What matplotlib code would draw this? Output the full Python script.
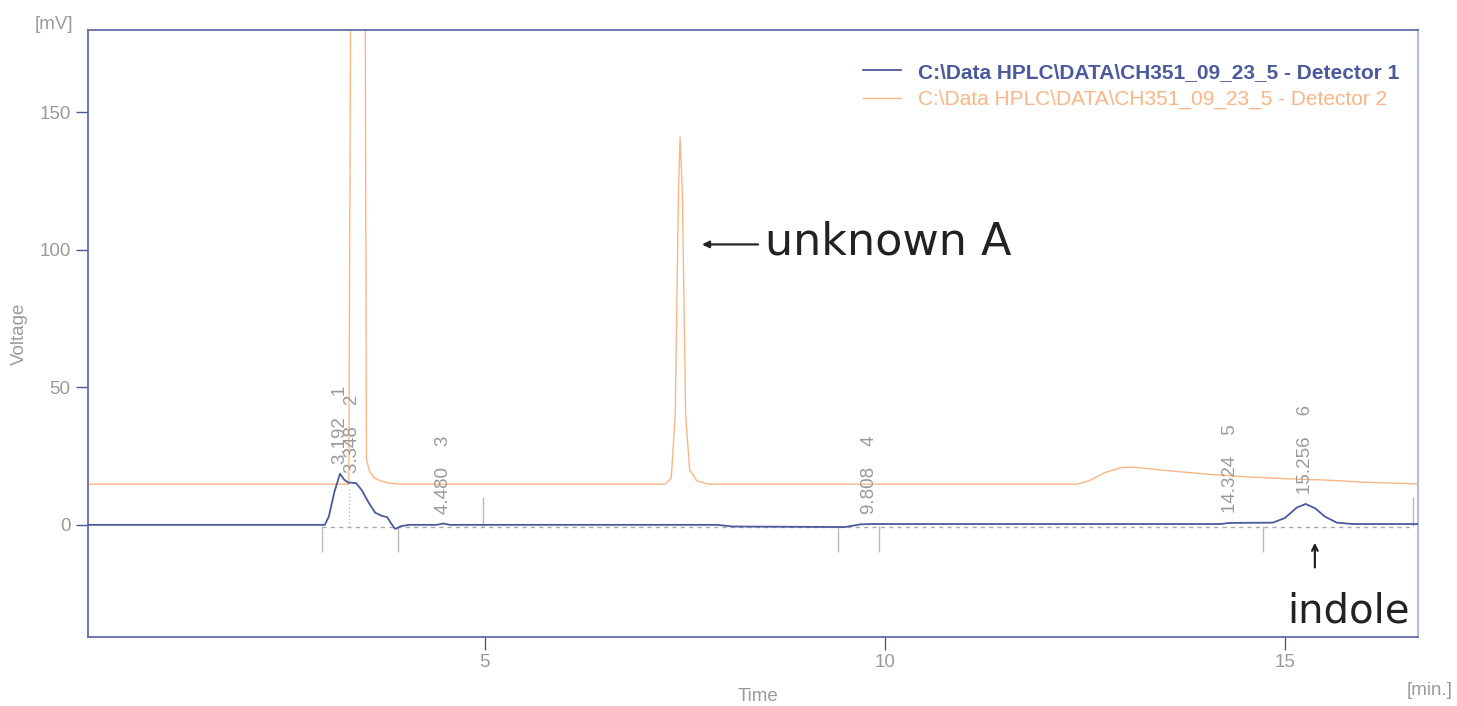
import numpy as np
import matplotlib.pyplot as plt

# --- DATA ---
# Detector 1 (blue) trace: time [min], voltage [mV]
det1_t = [0.04, 3.00, 3.05, 3.12, 3.19, 3.24, 3.29, 3.39, 3.46, 3.55, 3.63, 3.72, 3.78,
          3.83, 3.88, 3.95, 4.05, 4.40, 4.48, 4.56, 7.90, 8.10, 9.50, 9.60, 9.70, 9.85,
          14.20, 14.30, 14.85, 15.00, 15.15, 15.26, 15.38, 15.50, 15.65, 15.85, 16.66]
det1_v = [0.0, 0.0, 3.0, 12.0, 18.6, 16.5, 15.4, 15.2, 12.7, 8.0, 4.4, 3.2, 2.8,
          0.5, -1.5, -0.5, 0.0, 0.0, 0.5, 0.0, 0.0, -0.6, -0.8, -0.3, 0.2, 0.3,
          0.3, 0.7, 0.8, 2.5, 6.3, 7.6, 6.0, 3.0, 0.8, 0.3, 0.3]

# Detector 2 (orange) trace, the first peak runs far off scale
det2_t = [0.04, 3.30, 3.33, 3.50, 3.52, 3.56, 3.62, 3.70, 3.80, 3.95, 7.25, 7.33, 7.38,
          7.42, 7.44, 7.47, 7.51, 7.56, 7.65, 7.80, 12.40, 12.55, 12.75, 12.95, 13.10,
          13.50, 14.00, 14.50, 15.00, 15.50, 16.00, 16.66]
det2_v = [14.8, 14.8, 250.0, 250.0, 24.0, 19.5, 17.0, 16.0, 15.2, 14.8, 14.8, 17.0, 40.0,
          120.0, 141.0, 120.0, 40.0, 20.0, 16.0, 14.8, 14.8, 16.0, 19.0, 20.8, 21.0,
          19.8, 18.5, 17.5, 16.8, 16.3, 15.5, 14.9]

# integrated peaks (detector 1)
peak_no = [1, 2, 3, 4, 5, 6]
peak_rt = [3.192, 3.348, 4.480, 9.808, 14.324, 15.256]
peak_h = [18.6, 15.4, 0.5, 0.3, 0.7, 7.6]

# integration event marks
mark_down_t = [2.96, 3.92, 9.41, 9.93, 14.73]
mark_up_t = [4.98, 16.60]

blue = '#4a5a9c'
orange = '#fab585'
gray = '#9a9a9a'
ink = '#222222'
plt.rcParams['font.family'] = ['Liberation Sans', 'DejaVu Sans']

fig = plt.figure(figsize=(14.57, 7.06), dpi=100)
ax = fig.add_axes([0.0604, 0.0977, 0.9126, 0.8598])

ax.plot(det2_t, det2_v, color=orange, lw=1.0, label='C:\\Data HPLC\\DATA\\CH351_09_23_5 - Detector 2', zorder=2)
ax.plot(det1_t, det1_v, color=blue, lw=1.3, label='C:\\Data HPLC\\DATA\\CH351_09_23_5 - Detector 1', zorder=3)

# integration baseline + event marks
ax.plot([2.96, 16.6], [-0.7, -0.7], color='#aaaaaa', lw=1, ls=(0, (3, 3)), zorder=1)
ax.vlines(mark_down_t, -10, -0.5, color='#bbbbbb', lw=1)
ax.vlines(mark_up_t, -0.5, 10, color='#bbbbbb', lw=1)
ax.vlines([3.30], -0.7, 13, color='#bbbbbb', lw=1, linestyles=':')

for n, rt, h in zip(peak_no, peak_rt, peak_h):
    ax.annotate(f'{rt:.3f}    {n}', (rt, h), xytext=(0, 7), textcoords='offset points',
                rotation=90, ha='center', va='bottom', fontsize=13.5, color=gray)

ax.set_xlim(0.04, 16.66)
ax.set_ylim(-40.8, 180)
ax.set_xticks([5, 10, 15])
ax.set_yticks([0, 50, 100, 150])
ax.tick_params(axis='both', direction='out', length=9, width=1, color=blue,
               labelcolor=gray, labelsize=13.5)
for s in ['left', 'bottom', 'top']:
    ax.spines[s].set_color('#55629e')
ax.spines['right'].set_color('#9fb0d8')
for s in ax.spines.values():
    s.set_linewidth(1.2)

fig.text(0.050, 0.965, '[mV]', ha='right', va='center', fontsize=13.5, color=gray)
fig.text(0.997, 0.022, '[min.]', ha='right', va='center', fontsize=13.5, color=gray)
fig.text(0.013, 0.527, 'Voltage', rotation=90, ha='center', va='center', fontsize=13.5, color=gray)
fig.text(0.52, 0.013, 'Time', ha='center', va='center', fontsize=13.5, color=gray)

lines = ax.get_lines()
leg = ax.legend(handles=[lines[1], lines[0]], loc='upper right',
                bbox_to_anchor=(1.0, 0.977), frameon=False, fontsize=15,
                handlelength=1.8, handletextpad=0.8, labelspacing=0.4)
for txt, c, w in zip(leg.get_texts(), [blue, orange], ['bold', 'normal']):
    txt.set_color(c)
    txt.set_fontweight(w)

# handwritten notes
ax.annotate('', xy=(7.68, 102), xytext=(8.45, 102),
            arrowprops=dict(arrowstyle='-|>', color=ink, lw=1.6))
ax.text(8.5, 103, 'unknown A', fontsize=32, color=ink, va='center', ha='left',
        family='DejaVu Sans')
ax.annotate('', xy=(15.375, -5.5), xytext=(15.375, -16.5),
            arrowprops=dict(arrowstyle='->', color=ink, lw=1.6))
ax.text(15.8, -31.5, 'indole', fontsize=29, color=ink, va='center', ha='center',
        family='DejaVu Sans')

plt.savefig('out.png', dpi=100)
